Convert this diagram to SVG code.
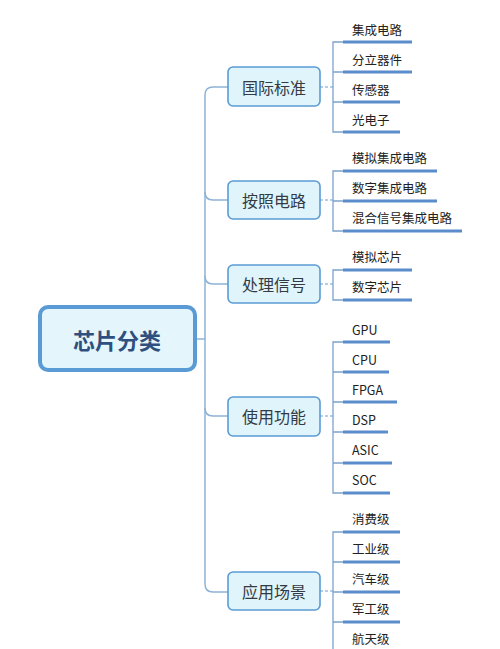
<svg xmlns="http://www.w3.org/2000/svg" width="500" height="649" viewBox="0 0 500 649">
<style>
.trunk{fill:none;stroke:#8fb3d6;stroke-width:1.5}
.sub{fill:none;stroke:#7aa3cf;stroke-width:1.3}
.dash{fill:none;stroke:#9fbfdc;stroke-width:1.3;stroke-dasharray:3,2}
.ul{stroke:#5b8ccc;stroke-width:3;stroke-linecap:butt}
.box{fill:#dff4fb;stroke:#5b9bd5;stroke-width:1.6}
.bt{font-family:"Noto Sans CJK SC","Noto Sans",sans-serif;font-size:16px;fill:#333a44;text-anchor:middle;dominant-baseline:central}
.lt{font-family:"Noto Sans CJK SC","Noto Sans",sans-serif;font-size:12.5px;fill:#222}
</style>
<rect width="500" height="649" fill="#ffffff"/>
<g id="connectors">
<path class="trunk" d="M197,339 H205"/>
<path class="trunk" d="M228,87 H213 Q205,87 205,95 V584 Q205,592 213,592 H228"/>
<path class="trunk" d="M205,192 Q205,200 213,200 H228"/>
<path class="trunk" d="M205,276 Q205,284 213,284 H228"/>
<path class="trunk" d="M205,408 Q205,416 213,416 H228"/>
<path class="dash" d="M320,87 H333"/>
<path class="dash" d="M320,200 H333"/>
<path class="dash" d="M320,284 H333"/>
<path class="dash" d="M320,416 H333"/>
<path class="dash" d="M320,591 H333"/>
<path class="sub" d="M343,42 H333 V132 H343 M333,72 H343 M333,102 H343"/>
<path class="sub" d="M343,171 H333 V231 H343 M333,201 H343"/>
<path class="sub" d="M343,270 H333 V300 H343"/>
<path class="sub" d="M343,342 H333 V493 H343 M333,372 H343 M333,402 H343 M333,432 H343 M333,463 H343"/>
<path class="sub" d="M343,532 H333 V649 M333,562 H343 M333,592 H343 M333,622 H343"/>
</g>
<g id="root">
<rect x="40" y="307" width="155" height="63" rx="8" fill="#e4f6fb" stroke="#5b9bd5" stroke-width="4"/>
<text x="117" y="339" font-family="'Noto Sans CJK SC','Noto Sans',sans-serif" font-size="22" font-weight="bold" fill="#2f4f7f" text-anchor="middle" dominant-baseline="central">芯片分类</text>
</g>
<g id="n1"><rect class="box" x="228" y="67" width="92" height="39" rx="5"/><text class="bt" x="274" y="87">国际标准</text></g>
<g id="n2"><rect class="box" x="228" y="181" width="92" height="38" rx="5"/><text class="bt" x="274" y="200">按照电路</text></g>
<g id="n3"><rect class="box" x="228" y="265" width="92" height="38" rx="5"/><text class="bt" x="274" y="284">处理信号</text></g>
<g id="n4"><rect class="box" x="228" y="397" width="92" height="39" rx="5"/><text class="bt" x="274" y="416">使用功能</text></g>
<g id="n5"><rect class="box" x="228" y="572" width="92" height="38" rx="5"/><text class="bt" x="274" y="591">应用场景</text></g>
<g id="leaves1">
<line class="ul" x1="343" y1="42" x2="412" y2="42"/><text class="lt" x="352" y="35">集成电路</text>
<line class="ul" x1="343" y1="72" x2="412" y2="72"/><text class="lt" x="352" y="65">分立器件</text>
<line class="ul" x1="343" y1="102" x2="400" y2="102"/><text class="lt" x="352" y="95">传感器</text>
<line class="ul" x1="343" y1="132" x2="400" y2="132"/><text class="lt" x="352" y="125">光电子</text>
</g>
<g id="leaves2">
<line class="ul" x1="343" y1="171" x2="437" y2="171"/><text class="lt" x="352" y="163">模拟集成电路</text>
<line class="ul" x1="343" y1="201" x2="437" y2="201"/><text class="lt" x="352" y="193">数字集成电路</text>
<line class="ul" x1="343" y1="231" x2="462" y2="231"/><text class="lt" x="352" y="223">混合信号集成电路</text>
</g>
<g id="leaves3">
<line class="ul" x1="343" y1="270" x2="412" y2="270"/><text class="lt" x="352" y="262">模拟芯片</text>
<line class="ul" x1="343" y1="300" x2="412" y2="300"/><text class="lt" x="352" y="292">数字芯片</text>
</g>
<g id="leaves4">
<line class="ul" x1="343" y1="342" x2="390" y2="342"/><text class="lt" x="352" y="335">GPU</text>
<line class="ul" x1="343" y1="372" x2="389" y2="372"/><text class="lt" x="352" y="365">CPU</text>
<line class="ul" x1="343" y1="402" x2="397" y2="402"/><text class="lt" x="352" y="395">FPGA</text>
<line class="ul" x1="343" y1="432" x2="388" y2="432"/><text class="lt" x="352" y="425">DSP</text>
<line class="ul" x1="343" y1="463" x2="392" y2="463"/><text class="lt" x="352" y="455">ASIC</text>
<line class="ul" x1="343" y1="493" x2="390" y2="493"/><text class="lt" x="352" y="485">SOC</text>
</g>
<g id="leaves5">
<line class="ul" x1="343" y1="532" x2="400" y2="532"/><text class="lt" x="352" y="524">消费级</text>
<line class="ul" x1="343" y1="562" x2="400" y2="562"/><text class="lt" x="352" y="554">工业级</text>
<line class="ul" x1="343" y1="592" x2="400" y2="592"/><text class="lt" x="352" y="584">汽车级</text>
<line class="ul" x1="343" y1="622" x2="400" y2="622"/><text class="lt" x="352" y="614">军工级</text>
<text class="lt" x="352" y="644">航天级</text>
</g>
</svg>
